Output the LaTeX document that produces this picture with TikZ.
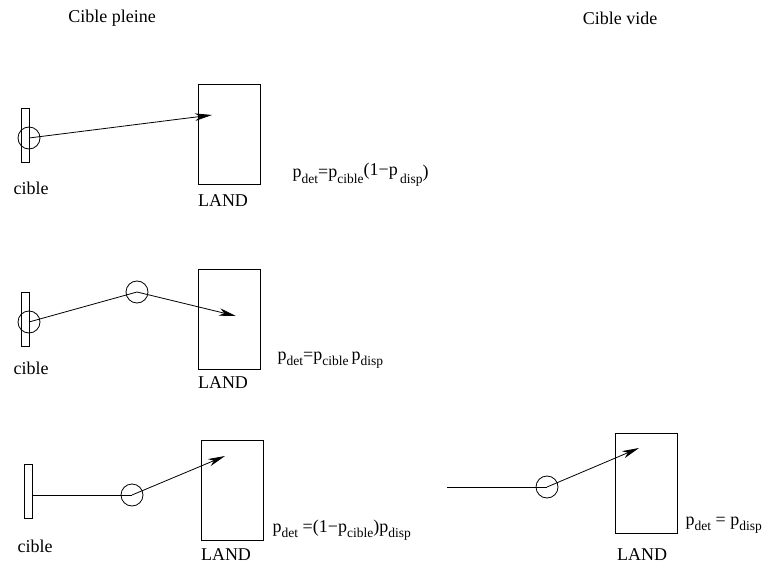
\documentclass[tikz,border=0pt]{standalone}
\usepackage{fontspec}
\setmainfont{Liberation Serif}
\usetikzlibrary{arrows.meta}
\newcommand{\ind}[1]{\raisebox{-0.3em}{\fontsize{13.5}{14}\selectfont #1}}
\begin{document}
\begin{tikzpicture}[x=1pt,y=-1pt,line width=0.8pt,
    every node/.style={font=\fontsize{18}{20}\selectfont},
    cible/.style={draw, inner sep=0pt, minimum width=8pt, minimum height=54pt},
    land/.style={draw, inner sep=0pt, minimum width=62pt, minimum height=100pt},
    pt/.style={draw, circle, inner sep=0pt, minimum size=22pt},
    ray/.style={-{Stealth[length=17pt,width=7.5pt,inset=5pt]}}]
    \useasboundingbox (0,0) rectangle (765,564);
    \node (titre1) at (112,18) {Cible pleine};
    \node (titre2) at (620,18) {Cible vide};
    % cible pleine, tir direct
    \node[cible] (cible1) at (25,135) {};
    \node[pt] (pt1) at (29,138) {};
    \node[land] (land1) at (229,134) {};
    \coordinate (tip1) at (212,115);
    \draw[ray] (pt1.center) -- (tip1);
    \node (lc1) at (31,188) {cible};
    \node (ll1) at (223,201) {LAND};
    \node[anchor=base west] (f1) at (289,178) {p\ind{det}=p\ind{cible}\raisebox{2pt}{(1−p}\ind{\,disp})};
    % cible pleine, rebond
    \node[cible] (cible2) at (25,319.5) {};
    \node[pt] (pt2a) at (29,322) {};
    \node[pt] (pt2b) at (137,292) {};
    \node[land] (land2) at (229,319) {};
    \coordinate (tip2) at (236,316);
    \draw (pt2a.center) -- (pt2b.center);
    \draw[ray] (pt2b.center) -- (tip2);
    \node (lc2) at (31,368) {cible};
    \node (ll2) at (223,383) {LAND};
    \node[anchor=base west] (f2) at (274,360) {p\ind{det}=p\ind{cible}\,p\ind{disp}};
    % cible pleine, tir manque
    \node[cible] (cible3) at (28,491) {};
    \node[pt] (pt3) at (132,495) {};
    \node[land] (land3) at (232,490.5) {};
    \coordinate (tip3) at (225,456);
    \draw (pt3.center -| cible3.east) -- (pt3.center);
    \draw[ray] (pt3.center) -- (tip3);
    \node (lc3) at (35,546) {cible};
    \node (ll3) at (226,555) {LAND};
    \node[anchor=base west] (f3) at (269,532) {p\ind{det} =(1−p\ind{cible})p\ind{disp}};
    % cible vide
    \coordinate (dep4) at (447,487);
    \node[pt] (pt4) at (547,487) {};
    \node[land] (land4) at (646.5,483) {};
    \coordinate (tip4) at (639,448);
    \draw (dep4) -- (pt4.center);
    \draw[ray] (pt4.center) -- (tip4);
    \node (ll4) at (642,555) {LAND};
    \node[anchor=base west] (f4) at (682,525) {p\ind{det} = p\ind{disp}};
\end{tikzpicture}
\end{document}
